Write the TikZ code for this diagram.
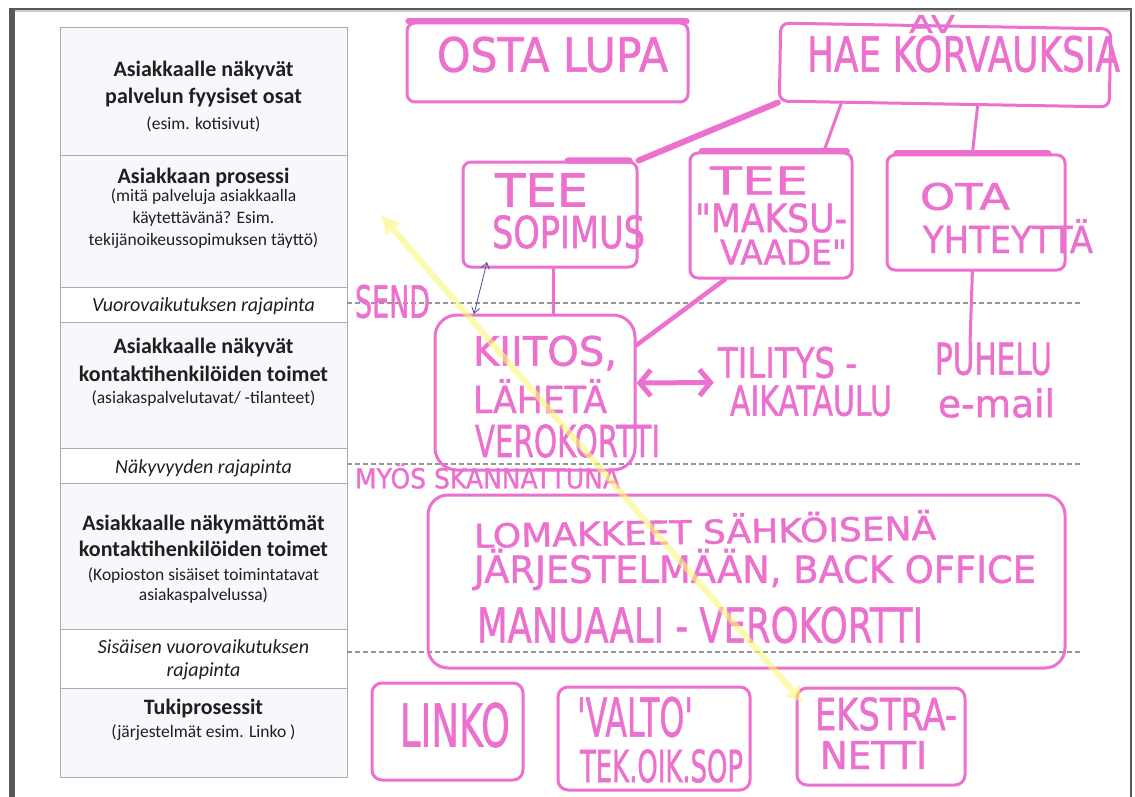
\documentclass[tikz,border=0pt]{standalone}
\usepackage{fontspec}
\usepackage{graphicx}
\setmainfont{Carlito}
\newfontfamily\handfont{DejaVu Sans}[FakeBold=1.2]
\usetikzlibrary{arrows.meta,calc}

\definecolor{marker}{RGB}{236,112,206}
\definecolor{hilite}{RGB}{250,248,120}
\definecolor{rowfill}{RGB}{247,248,251}
\definecolor{rowline}{RGB}{172,172,176}
\definecolor{framegray}{RGB}{88,88,90}
\definecolor{dashgray}{RGB}{150,150,152}
\definecolor{pen}{RGB}{70,80,140}

% marker lettering squeezed into a given width and height (in pt)
\newcommand{\handtext}[3]{\resizebox{#1pt}{#2pt}{\handfont #3}}

\begin{document}
\begin{tikzpicture}[x=1pt,y=-1pt,
  rowbox/.style={draw=rowline, line width=0.8pt, minimum width=287pt, inner sep=0pt, anchor=north west},
  solidrow/.style={rowbox, fill=rowfill},
  gaprow/.style={rowbox, fill=white},
  head/.style={font=\bfseries\fontsize{22}{26}\selectfont, anchor=base, inner sep=0pt, text=black!88},
  note/.style={font=\fontsize{17.5}{21}\selectfont, anchor=base, inner sep=0pt, text=black!88},
  iface/.style={font=\itshape\fontsize{20}{24}\selectfont, anchor=base, inner sep=0pt, text=black!88},
  hbox/.style={draw=marker, line width=3pt, inner sep=0pt, rounded corners=#1},
  hbox/.default=8pt,
  hand/.style={text=marker, inner sep=0pt},
  link/.style={draw=marker, line width=3pt, line cap=round},
  heavy/.style={draw=marker, line width=6pt, line cap=round},
  accent/.style={draw=marker, line width=6pt, line cap=round},
  dashline/.style={draw=dashgray, line width=1.6pt, dash pattern=on 5pt off 3pt},
]
\useasboundingbox (0,0) rectangle (1135,797);
\fill[white] (0,0) rectangle (1135,797);

% scanned page edges
\fill[framegray] (9,8) rectangle (15,797);
\fill[black!20] (15,10) rectangle (1130,12);
\draw[framegray, line width=2pt] (9,9) -- (1131,9);
\draw[framegray, line width=2pt] (1131,8) -- (1131,797);

% blueprint layers
\node[solidrow, minimum height=128pt] (r1) at (60,27) {};
\node[solidrow, minimum height=132pt] (r2) at (60,155) {};
\node[gaprow, minimum height=35pt] (r3) at (60,287) {};
\node[solidrow, minimum height=126pt] (r4) at (60,322) {};
\node[gaprow, minimum height=35pt] (r5) at (60,448) {};
\node[solidrow, minimum height=146pt] (r6) at (60,483) {};
\node[gaprow, minimum height=59pt] (r7) at (60,629) {};
\node[solidrow, minimum height=89pt] (r8) at (60,688) {};

\node[head] (r1a) at (203.5,77) {Asiakkaalle näkyvät};
\node[head] (r1b) at (203.5,103.5) {palvelun fyysiset osat};
\node[note] (r1c) at (203.5,130) {(esim. kotisivut)};
\node[head] (r2a) at (203.5,183) {Asiakkaan prosessi};
\node[note] (r2b) at (203.5,201.5) {(mitä palveluja asiakkaalla};
\node[note] (r2c) at (203.5,223) {käytettävänä? Esim.};
\node[note] (r2d) at (203.5,245) {tekijänoikeussopimuksen täyttö)};
\node[iface] (r3a) at (203.5,311) {Vuorovaikutuksen rajapinta};
\node[head] (r4a) at (203.5,353.5) {Asiakkaalle näkyvät};
\node[head] (r4b) at (203.5,381) {kontaktihenkilöiden toimet};
\node[note] (r4c) at (203.5,403) {(asiakaspalvelutavat/ -tilanteet)};
\node[iface] (r5a) at (203.5,473) {Näkyvyyden rajapinta};
\node[head] (r6a) at (203.5,530) {Asiakkaalle näkymättömät};
\node[head] (r6b) at (203.5,556.5) {kontaktihenkilöiden toimet};
\node[note] (r6c) at (203.5,580) {(Kopioston sisäiset toimintatavat};
\node[note] (r6d) at (203.5,600) {asiakaspalvelussa)};
\node[iface] (r7a) at (203.5,653) {Sisäisen vuorovaikutuksen};
\node[iface] (r7b) at (203.5,676) {rajapinta};
\node[head] (r8a) at (203.5,714.5) {Tukiprosessit};
\node[note] (r8b) at (203.5,737) {(järjestelmät esim. Linko )};

% interface lines across the sketch area
\draw[dashline] (347,303) -- (1083,303);
\draw[dashline] (347,464) -- (1083,464);
\draw[dashline] (347,652) -- (1083,652);

% marker boxes
\node[hbox, minimum width=281pt, minimum height=79pt] (osta) at (547.5,62.5) {};
\node[hbox, minimum width=330pt, minimum height=78pt, rotate=-1] (hae) at (945,65) {};
\node[hbox, minimum width=174pt, minimum height=105pt] (teesop) at (550,214.5) {};
\node[hbox, minimum width=162pt, minimum height=125pt] (maksu) at (771,215.5) {};
\node[hbox, minimum width=178pt, minimum height=115pt] (ota) at (976,212.5) {};
\node[hbox=22pt, minimum width=200pt, minimum height=155pt] (kiitos) at (535,392.5) {};
\node[hbox=20pt, minimum width=637pt, minimum height=173pt] (backoffice) at (746.5,581.5) {};
\node[hbox=10pt, minimum width=151pt, minimum height=97pt] (linko) at (447.5,731.5) {};
\node[hbox=10pt, minimum width=192pt, minimum height=103pt] (valto) at (654,738.5) {};
\node[hbox=10pt, minimum width=168pt, minimum height=97pt] (ekstra) at (881,736.5) {};

% heavier strokes along box tops
\draw[accent] ($(osta.north west)!0.01!(osta.north east)$) -- ($(osta.north west)!0.99!(osta.north east)$);
\draw[accent] ($(teesop.north west)!0.6!(teesop.north east)$) -- ($(teesop.north west)!0.95!(teesop.north east)$);
\draw[accent] ($(maksu.north west)!0.08!(maksu.north east)$) -- ($(maksu.north west)!0.96!(maksu.north east)$);
\draw[accent] ($(ota.north west)!0.06!(ota.north east)$) -- ($(ota.north west)!0.9!(ota.north east)$);

% marker lettering
\node[hand] (t-osta) at (552.5,54.5) {\handtext{231}{35}{OSTA LUPA}};
\node[hand] (t-hae) at (963.5,54) {\handtext{313}{36}{HAE KORVAUKSIA}};
\node[hand] (t-av) at (932,24) {\handtext{46}{18}{AV}};
\node[hand] (t-tee1) at (541.5,190) {\handtext{93}{33}{TEE}};
\node[hand] (t-sop) at (568.5,232) {\handtext{153}{33}{SOPIMUS}};
\node[hand] (t-tee2) at (759,180.5) {\handtext{98}{28}{TEE}};
\node[hand] (t-maksu) at (771,218) {\handtext{152}{29}{"MAKSU-}};
\node[hand] (t-vaade) at (783.5,252) {\handtext{127}{25}{VAADE"}};
\node[hand] (t-ota) at (965,196.5) {\handtext{90}{27}{OTA}};
\node[hand] (t-yht) at (1008,236) {\handtext{170}{34}{YHTEYTTÄ}};
\node[hand] (t-send) at (392.5,301.5) {\handtext{75}{33}{SEND}};
\node[hand] (t-kiit) at (545,353) {\handtext{144}{30}{KIITOS,}};
\node[hand] (t-lah) at (540,396) {\handtext{134}{34}{LÄHETÄ}};
\node[hand] (t-vero) at (567.5,441) {\handtext{185}{33}{VEROKORTTI}};
\node[hand] (t-til) at (787.5,362.5) {\handtext{139}{31}{TILITYS -}};
\node[hand] (t-aika) at (811,401) {\handtext{162}{30}{AIKATAULU}};
\node[hand] (t-puh) at (993.5,359) {\handtext{117}{32}{PUHELU}};
\node[hand] (t-mail) at (996.5,403) {\handtext{117}{29}{e-mail}};
\node[hand] (t-myos) at (487.5,476) {\handtext{265}{25}{MYÖS SKANNATTUNA}};
\node[hand, rotate=1] (t-lom) at (705,529) {\handtext{462}{30}{LOMAKKEET SÄHKÖISENÄ}};
\node[hand] (t-jar) at (755,569.5) {\handtext{562}{34}{JÄRJESTELMÄÄN, BACK OFFICE}};
\node[hand] (t-man) at (700,625) {\handtext{446}{36}{MANUAALI - VEROKORTTI}};
\node[hand] (t-linko) at (455,725) {\handtext{110}{44}{LINKO}};
\node[hand] (t-valto) at (635,717) {\handtext{116}{40}{'VALTO'}};
\node[hand] (t-tek) at (661.5,766) {\handtext{163}{33}{TEK.OIK.SOP}};
\node[hand] (t-eks) at (886,714) {\handtext{142}{33}{EKSTRA-}};
\node[hand] (t-netti) at (873.5,755) {\handtext{107}{28}{NETTI}};

% marker connectors
\draw[heavy] (hae.south west) -- (teesop.north east);
\draw[link] ($(hae.south west)!0.19!(hae.south east)$) -- ($(maksu.north west)!0.82!(maksu.north east)$);
\draw[link] ($(hae.south west)!0.6!(hae.south east)$) -- ($(ota.north west)!0.48!(ota.north east)$);
\draw[link] ($(teesop.south west)!0.52!(teesop.south east)$) -- ($(kiitos.north west)!0.59!(kiitos.north east)$);
\draw[link, line width=4.5pt] ($(maksu.south west)!0.22!(maksu.south east)$) -- ($(kiitos.north east)!0.2!(kiitos.south east)$);
\draw[link] ($(ota.south west)!0.48!(ota.south east)$) -- ($(t-puh.north west)!0.3!(t-puh.north east)$);
\draw[marker, line width=5pt, {Straight Barb[length=11pt,width=26pt]}-{Straight Barb[length=11pt,width=26pt]}]
  ($(kiitos.north east)!0.44!(kiitos.south east)$) -- ($(t-til.south west)+(-4,4)$);

% thin pen arrow
\coordinate (pentop) at (487,262);
\coordinate (penbot) at (474,314);
\draw[pen, line width=0.8pt, {Straight Barb[length=6pt,width=8pt]}-{Straight Barb[length=6pt,width=8pt]}] (pentop) -- (penbot);

% highlighter arrow
\coordinate (ytop) at (380,214);
\coordinate (ybot) at (803,703);
\begin{scope}[transparency group, opacity=0.6]
\draw[hilite, line width=6pt, {Latex[length=20pt,width=20pt]}-{Latex[length=16pt,width=20pt]}] (ytop) -- (ybot);
\end{scope}
\end{tikzpicture}
\end{document}
